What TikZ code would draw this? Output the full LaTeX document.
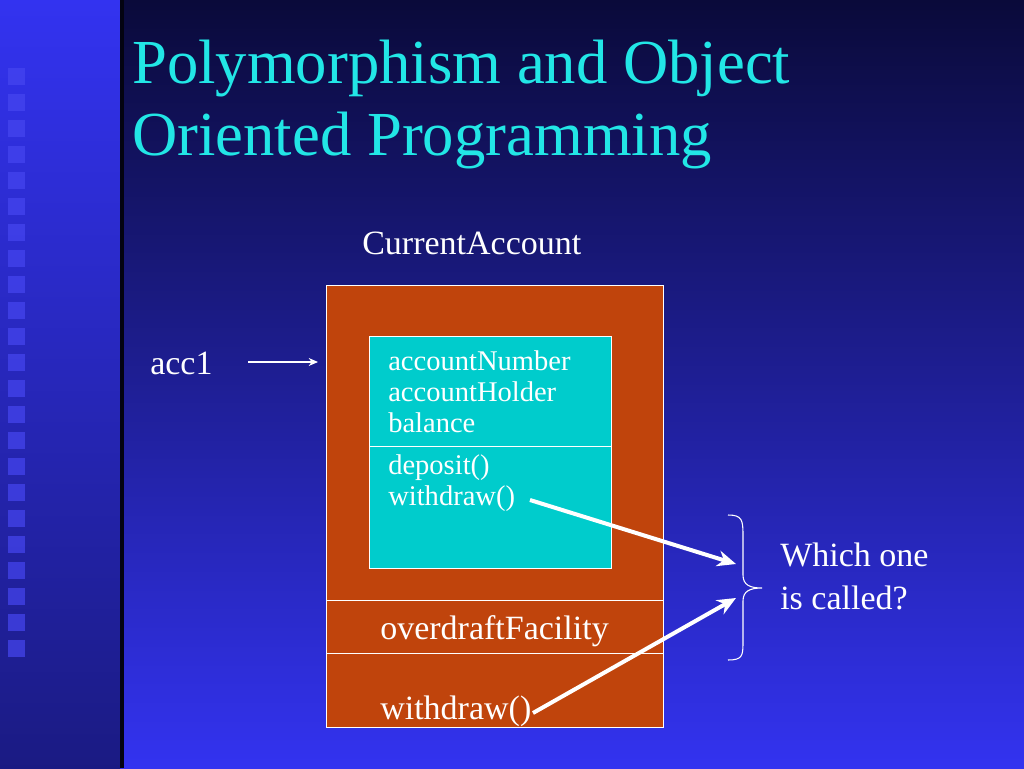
\documentclass[tikz,border=0pt]{standalone}
\usepackage{fontspec}
\setmainfont{Liberation Serif}
\usetikzlibrary{arrows.meta}
\definecolor{dk}{HTML}{0A0A3A}
\definecolor{bb}{HTML}{3333F0}
\definecolor{rust}{HTML}{C0440C}
\definecolor{teal}{HTML}{00CCCC}
\definecolor{ttl}{HTML}{22E6E6}
\definecolor{sq}{HTML}{4646F0}
\tikzset{lbl/.style={text=white,font=\fontsize{25.5pt}{30pt}\selectfont,anchor=west,inner sep=0},
small/.style={text=white,font=\fontsize{21.4pt}{23.3pt}\selectfont,anchor=west,inner sep=0,align=left},
bigarrow/.style={white,line width=3pt,-{Stealth[length=14pt,width=12pt]}}}
\begin{document}
\begin{tikzpicture}[x=0.75pt,y=-0.75pt]
\useasboundingbox (0,0) rectangle (1024,768);
\shade[top color=dk,bottom color=bb] (120,0) rectangle (1024,768);
\shade[top color=bb,bottom color=dk!60!bb] (0,0) rectangle (120,768);
\fill[black!70!dk] (120,0) rectangle (124,768);
\foreach \i in {0,...,22} {\fill[sq,opacity=0.7] (8,{68+\i*26}) rectangle (25,{85+\i*26});}
\node[text=ttl,font=\fontsize{47pt}{54pt}\selectfont,anchor=north west,align=left,inner sep=0] (title) at (132,40) {Polymorphism and Object\\Oriented Programming};
\node[lbl] (ca) at (362,243) {CurrentAccount};
\draw[white,line width=0.6pt,fill=rust] (326,285) rectangle (663,727);
\draw[white,line width=0.6pt] (326,600) -- (663,600) (326,653) -- (663,653);
\draw[white,line width=0.6pt,fill=teal] (369,336) rectangle (611,568);
\draw[white,line width=0.6pt] (369,446) -- (611,446);
\coordinate (box) at (318,362);
\node[lbl] (acc) at (150,363) {acc1};
\coordinate (accs) at (248,362);
\draw[white,line width=0.8pt,-{Stealth[length=7pt,width=6pt]}] (accs) -- (box);
\node[small,anchor=north west] (fields) at (388,350) {accountNumber\\accountHolder\\balance};
\node[small,anchor=north west] (meth) at (388,454) {deposit()\\withdraw()};
\node[lbl] (od) at (380,631) {overdraftFacility};
\node[lbl] (wd) at (380,711) {withdraw()};
\coordinate (w1) at (530,500);
\coordinate (w2) at (533,713);
\coordinate (t1) at (736,564);
\coordinate (t2) at (736,598);
\draw[bigarrow] (w1) -- (t1);
\draw[bigarrow] (w2) -- (t2);
\draw[white,line width=0.8pt] (728,515) .. controls (742,515) and (743,520) .. (743,535) -- (743,575) .. controls (743,585) and (750,588) .. (762,588) .. controls (750,588) and (743,591) .. (743,601) -- (743,643) .. controls (743,656) and (742,660) .. (728,660);
\node[lbl,align=left,anchor=north west,font=\fontsize{25.5pt}{32pt}\selectfont] (q) at (780,543) {Which one\\is called?};
\end{tikzpicture}
\end{document}
